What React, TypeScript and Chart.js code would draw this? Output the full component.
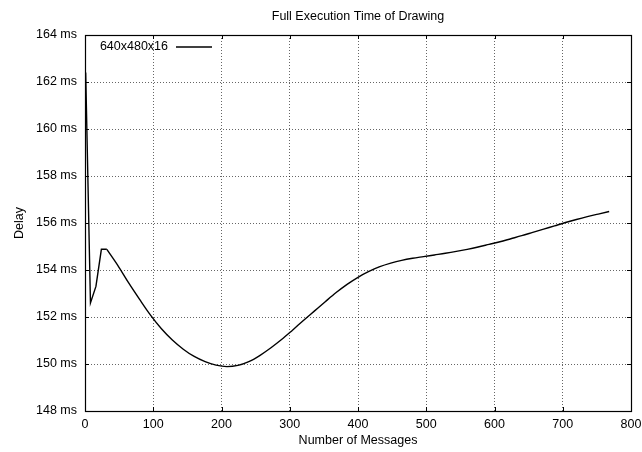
import React, { useEffect, useRef } from "react";
import { Chart, registerables } from "chart.js";

Chart.register(...registerables);

const TITLE = "Full Execution Time of Drawing";
const X_TITLE = "Number of Messages";
const Y_TITLE = "Delay";
const SERIES_LABEL = "640x480x16";

const messages: number[] = [
  1, 8, 16, 24, 32, 48, 64, 80, 96, 112, 128, 144, 160, 176, 192, 208, 224, 240,
  256, 272, 288, 304, 320, 336, 352, 368, 384, 400, 416, 432, 448, 464, 480, 496,
  512, 528, 544, 560, 576, 592, 608, 624, 640, 656, 672, 688, 704, 720, 736, 752, 768,
];
const delayMs: number[] = [
  162.4, 152.6, 153.3, 154.88, 154.88, 154.2, 153.45, 152.75, 152.08, 151.5, 151.02,
  150.63, 150.32, 150.1, 149.95, 149.89, 149.94, 150.1, 150.36, 150.68, 151.04, 151.44,
  151.85, 152.25, 152.65, 153.04, 153.39, 153.69, 153.94, 154.14, 154.29, 154.41, 154.5,
  154.57, 154.64, 154.71, 154.79, 154.88, 154.98, 155.09, 155.2, 155.33, 155.46, 155.6,
  155.74, 155.88, 156.02, 156.15, 156.27, 156.38, 156.49,
];
// first points (startup spike) are joined by straight segments, the rest smoothly
const SPIKE_END = 4;
const xTicks: number[] = [0, 100, 200, 300, 400, 500, 600, 700, 800];
const yTicks: number[] = [148, 150, 152, 154, 156, 158, 160, 162, 164];

const FONT = "'Liberation Sans', Arial, Helvetica, sans-serif";
const FS = 12.5;

const framePlugin = {
  id: "gnuFrame",
  afterDraw(chart: any) {
    const { ctx, chartArea } = chart;
    const { left, right, top, bottom } = chartArea;
    const xs = chart.scales.x;
    const ys = chart.scales.y;
    ctx.save();
    ctx.strokeStyle = "#000";
    ctx.lineWidth = 1;
    ctx.beginPath();
    const tl = 4;
    xTicks.forEach((v) => {
      const px = Math.round(xs.getPixelForValue(v)) + 0.5;
      ctx.moveTo(px, bottom);
      ctx.lineTo(px, bottom - tl);
      ctx.moveTo(px, top);
      ctx.lineTo(px, top + tl);
    });
    yTicks.forEach((v) => {
      const py = Math.round(ys.getPixelForValue(v)) + 0.5;
      ctx.moveTo(left, py);
      ctx.lineTo(left + tl, py);
      ctx.moveTo(right, py);
      ctx.lineTo(right - tl, py);
    });
    ctx.stroke();
    ctx.lineWidth = 1.2;
    ctx.strokeRect(Math.round(left) + 0.5, Math.round(top) + 0.5, Math.round(right - left), Math.round(bottom - top));
    ctx.fillStyle = "#000";
    ctx.font = `${FS}px ${FONT}`;
    ctx.textAlign = "center";
    ctx.textBaseline = "middle";
    ctx.fillText(TITLE, (left + right) / 2, 17);
    const ly = top + 12;
    ctx.textAlign = "right";
    ctx.fillText(SERIES_LABEL, left + 83, ly);
    ctx.lineWidth = 1.4;
    ctx.beginPath();
    ctx.moveTo(left + 91, ly);
    ctx.lineTo(left + 127, ly);
    ctx.stroke();
    ctx.restore();
  },
};

export default function App() {
  const ref = useRef<HTMLCanvasElement | null>(null);
  useEffect(() => {
    if (!ref.current) return;
    const pts = messages.map((m, i) => ({ x: m, y: delayMs[i] }));
    const common = {
      label: SERIES_LABEL,
      borderColor: "#000",
      borderWidth: 1.4,
      pointRadius: 0,
      fill: false,
    };
    const chart = new Chart(ref.current, {
      type: "line",
      data: {
        datasets: [
          { ...common, data: pts.slice(0, SPIKE_END + 1), tension: 0 },
          { ...common, data: pts.slice(SPIKE_END), cubicInterpolationMode: "monotone" },
        ],
      },
      options: {
        animation: false,
        responsive: false,
        maintainAspectRatio: false,
        layout: { padding: { top: 35, right: 11, left: 0, bottom: 0 } },
        plugins: {
          legend: { display: false },
          title: { display: false },
          tooltip: { enabled: false },
        },
        scales: {
          x: {
            type: "linear",
            min: 0,
            max: 800,
            afterBuildTicks: (s: any) => {
              s.ticks = xTicks.map((v) => ({ value: v }));
            },
            afterFit: (s: any) => {
              s.height = 41;
              s.paddingLeft = 0;
              s.paddingRight = 0;
            },
            ticks: { color: "#000", font: { family: FONT, size: FS }, padding: 6, maxRotation: 0 },
            grid: { color: "rgba(0,0,0,0.6)", drawTicks: false },
            border: { display: false, dash: [1, 2] },
            title: {
              display: true,
              text: X_TITLE,
              color: "#000",
              font: { family: FONT, size: FS },
              padding: { top: 0, bottom: 4 },
            },
          },
          y: {
            type: "linear",
            min: 148,
            max: 164,
            afterBuildTicks: (s: any) => {
              s.ticks = yTicks.map((v) => ({ value: v }));
            },
            afterFit: (s: any) => {
              s.width = 85;
              s.paddingTop = 0;
              s.paddingBottom = 0;
            },
            ticks: {
              color: "#000",
              font: { family: FONT, size: FS },
              padding: 8,
              callback: (v: any) => `${v} ms`,
            },
            grid: { color: "rgba(0,0,0,0.6)", drawTicks: false },
            border: { display: false, dash: [1, 2] },
            title: {
              display: true,
              text: Y_TITLE,
              color: "#000",
              font: { family: FONT, size: FS },
              padding: { top: 12, bottom: 0 },
            },
          },
        },
      },
      plugins: [framePlugin],
    });
    return () => chart.destroy();
  }, []);
  return (
    <div style={{ position: "fixed", left: 0, top: 0, width: 642, height: 452, background: "#fff" }}>
      <canvas ref={ref} width={642} height={452} style={{ display: "block" }} />
    </div>
  );
}
